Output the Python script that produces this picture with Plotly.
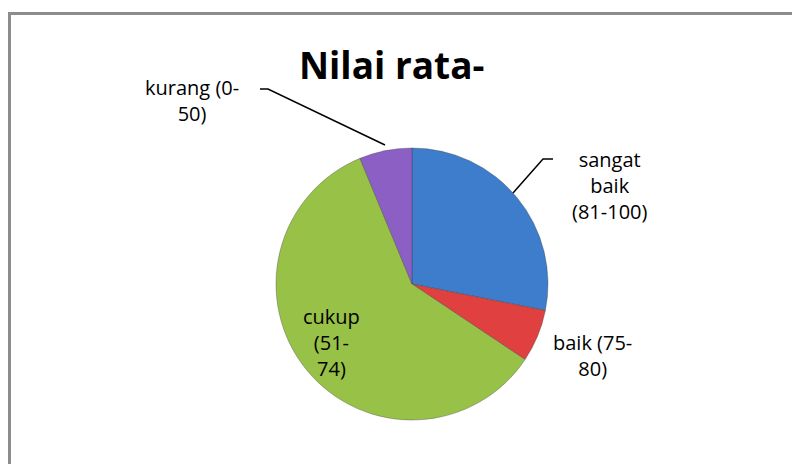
import plotly.graph_objects as go

labels = ["sangat baik (81-100)", "baik (75-80)", "cukup (51-74)", "kurang (0-50)"]
values = [9, 2, 19, 2]
colors = ["#3D7DCB", "#E0403F", "#98C147", "#8B5FC4"]
label_text = ["sangat<br>baik<br>(81-100)", "baik (75-<br>80)", "cukup<br>(51-<br>74)", "kurang (0-<br>50)"]

W, H = 800, 464
OFF = 8  # page body margin in the exported html


def px(x, y):
    # screen pixel position -> paper coords
    return (x - OFF) / W, 1 - (y - OFF) / H


cx, cy = px(412, 284)
r = 136
fig = go.Figure(go.Pie(
    labels=labels,
    values=values,
    marker=dict(colors=colors, line=dict(color="rgba(60,60,60,0.35)", width=1)),
    sort=False,
    direction="clockwise",
    rotation=0,
    textinfo="none",
    hoverinfo="label+value+percent",
    showlegend=False,
    domain=dict(x=[cx - r / W, cx + r / W], y=[cy - r / H, cy + r / H]),
))

font = dict(family="Open Sans, Lato, sans-serif", size=20, color="#000000")
label_pos = [(610, 185), (592, 355), (331, 342), (192, 100)]
annotations = []
for t, (x, y) in zip(label_text, label_pos):
    ax, ay = px(x, y)
    annotations.append(dict(text=t, x=ax, y=ay, xref="paper", yref="paper",
                            showarrow=False, font=font, align="center",
                            xanchor="center", yanchor="middle"))

tx, ty = px(391, 64)
annotations.append(dict(text="<b>Nilai rata-</b>", x=tx, y=ty, xref="paper", yref="paper",
                        showarrow=False, xanchor="center", yanchor="middle",
                        font=dict(family="Open Sans, Lato, sans-serif", size=37, color="#000000")))


def path(points):
    s = ""
    for i, (x, y) in enumerate(points):
        a, b = px(x, y)
        s += ("M" if i == 0 else " L") + f" {a},{b}"
    return s


x0, y1 = px(9.5, 13.5)
shapes = [
    # chart frame
    dict(type="rect", xref="paper", yref="paper", x0=x0, y0=-0.1, x1=1.1, y1=y1,
         line=dict(color="#8C8C8C", width=3)),
    # leader lines
    dict(type="path", xref="paper", yref="paper", path=path([(260, 89), (268, 89), (385, 145)]),
         line=dict(color="#000000", width=1.5)),
    dict(type="path", xref="paper", yref="paper", path=path([(553, 159), (543, 159), (513, 193)]),
         line=dict(color="#000000", width=1.5)),
]

fig.update_layout(
    width=W, height=H,
    margin=dict(l=0, r=0, t=0, b=0),
    paper_bgcolor="white",
    plot_bgcolor="white",
    annotations=annotations,
    shapes=shapes,
)

fig.write_html("out.html")
